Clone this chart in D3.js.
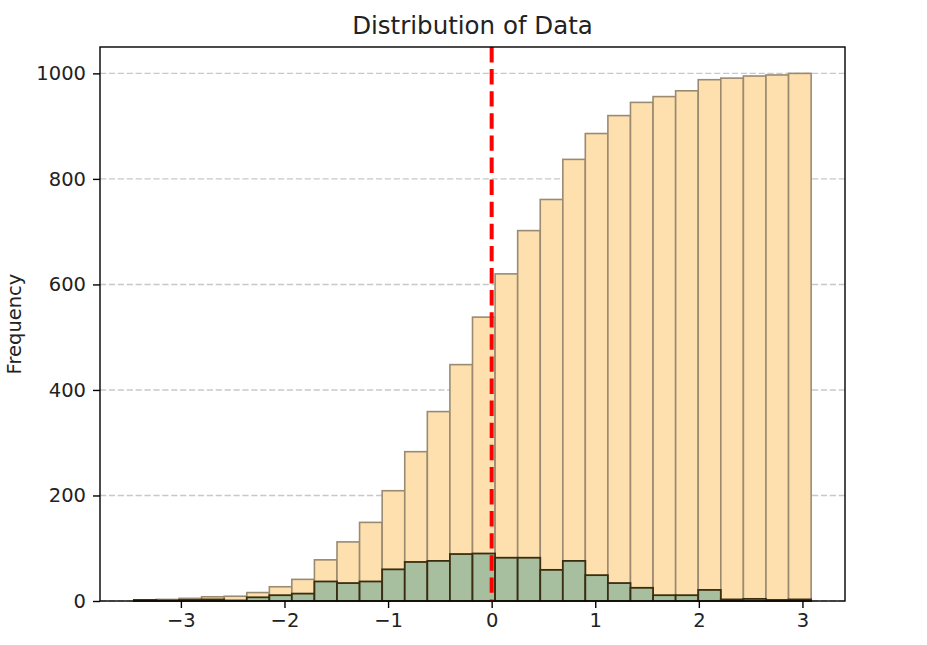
<!DOCTYPE html>
<html>
<head>
<meta charset="utf-8">
<script src="https://cdn.jsdelivr.net/npm/d3@7"></script>
<style>
  body { margin: 0; background: #fff; }
  svg { font-family: "DejaVu Sans", sans-serif; }
</style>
</head>
<body>
<div id="chart"></div>
<script>
// histogram bin edges (30 bins)
var binEdges = [-3.454, -3.236, -3.018, -2.800, -2.582, -2.364, -2.146, -1.929, -1.711, -1.493,
                -1.275, -1.057, -0.839, -0.621, -0.403, -0.185, 0.033, 0.251, 0.469, 0.687,
                0.904, 1.122, 1.340, 1.558, 1.776, 1.994, 2.212, 2.430, 2.648, 2.866, 3.084];
// counts per bin
var binCounts = [2, 1, 2, 3, 1, 7, 11, 14, 37, 34,
                 37, 60, 74, 76, 89, 90, 82, 82, 59, 76,
                 49, 34, 25, 11, 11, 21, 3, 4, 2, 3];
var xTicks = [-3, -2, -1, 0, 1, 2, 3];
var yTicks = [0, 200, 400, 600, 800, 1000];
var markerValue = 0;

var cumCounts = Array.from(d3.cumsum(binCounts));
var bins = binCounts.map(function(c, i){
    return {x0: binEdges[i], x1: binEdges[i + 1], count: c, cum: cumCounts[i]};
});

var width = 927, height = 645;
var margin = {left: 100, right: 82, top: 47, bottom: 44};

var svg = d3.select("#chart")
    .append("svg")
    .attr("width", width)
    .attr("height", height);

var x = d3.scaleLinear()
    .domain([-3.7809, 3.4109])
    .range([margin.left, width - margin.right]);

var y = d3.scaleLinear()
    .domain([0, 1050])
    .range([height - margin.bottom, margin.top]);

// y grid
svg.append("g")
    .selectAll("line")
    .data(yTicks)
    .enter()
    .append("line")
    .attr("x1", margin.left)
    .attr("x2", width - margin.right)
    .attr("y1", d => y(d))
    .attr("y2", d => y(d))
    .attr("stroke", "#b0b0b0")
    .attr("stroke-opacity", 0.7)
    .attr("stroke-width", 1.4)
    .attr("stroke-dasharray", "6.2,2.7");

// cumulative bars
svg.append("g")
    .selectAll("rect")
    .data(bins)
    .enter()
    .append("rect")
    .attr("x", d => x(d.x0))
    .attr("width", d => x(d.x1) - x(d.x0))
    .attr("y", d => y(d.cum))
    .attr("height", d => y(0) - y(d.cum))
    .attr("fill", "#fee0ae")
    .attr("stroke", "#9a8a72")
    .attr("stroke-width", 1.6);

// regular bars
svg.append("g")
    .selectAll("rect")
    .data(bins)
    .enter()
    .append("rect")
    .attr("x", d => x(d.x0))
    .attr("width", d => x(d.x1) - x(d.x0))
    .attr("y", d => y(d.count))
    .attr("height", d => y(0) - y(d.count))
    .attr("fill", "#a7bf9f")
    .attr("stroke", "#3a2e12")
    .attr("stroke-width", 1.8);

// marker line at 0
svg.append("line")
    .attr("x1", x(markerValue))
    .attr("x2", x(markerValue))
    .attr("y1", margin.top)
    .attr("y2", height - margin.bottom)
    .attr("stroke", "#ff0000")
    .attr("stroke-width", 4)
    .attr("stroke-dasharray", "15.4,6.7");

// frame
svg.append("rect")
    .attr("x", margin.left)
    .attr("y", margin.top)
    .attr("width", width - margin.left - margin.right)
    .attr("height", height - margin.top - margin.bottom)
    .attr("fill", "none")
    .attr("stroke", "#000")
    .attr("stroke-width", 1.4);

var fmt = d => (d < 0 ? "\u2212" + Math.abs(d) : String(d));

var xAxis = svg.append("g")
    .attr("transform", `translate(0,${height - margin.bottom})`)
    .call(d3.axisBottom(x).tickValues(xTicks).tickFormat(fmt).tickSize(7).tickPadding(5));
var yAxis = svg.append("g")
    .attr("transform", `translate(${margin.left},0)`)
    .call(d3.axisLeft(y).tickValues(yTicks).tickFormat(fmt).tickSize(7).tickPadding(7));

[xAxis, yAxis].forEach(function(ax){
    ax.select(".domain").remove();
    ax.selectAll(".tick line").attr("stroke", "#000").attr("stroke-width", 1.4);
    ax.selectAll(".tick text")
        .attr("fill", "#222")
        .style("font-size", "19.5px")
        .style("font-family", "DejaVu Sans, sans-serif");
});

svg.append("text")
    .attr("x", (margin.left + width - margin.right) / 2)
    .attr("y", 34)
    .attr("text-anchor", "middle")
    .style("font-size", "24.5px")
    .attr("fill", "#222")
    .text("Distribution of Data");

svg.append("text")
    .attr("transform", `translate(21,${(margin.top + height - margin.bottom) / 2}) rotate(-90)`)
    .attr("text-anchor", "middle")
    .style("font-size", "19.5px")
    .attr("fill", "#222")
    .text("Frequency");
</script>
</body>
</html>
